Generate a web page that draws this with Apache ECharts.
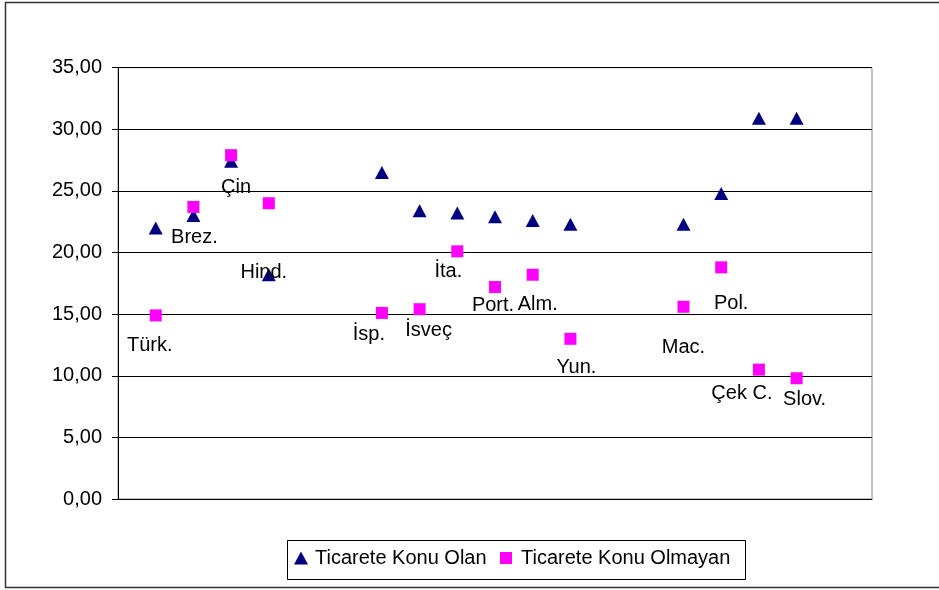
<!DOCTYPE html>
<html>
<head>
<meta charset="utf-8">
<script src="https://cdn.jsdelivr.net/npm/echarts@6/dist/echarts.min.js"></script>
<style>html,body{margin:0;padding:0;background:#fff}#c{width:939px;height:590px}</style>
</head>
<body>
<div id="c"></div>
<script>
// Category slots (blank slots are empty gaps on the axis)
const categories = ['', 'Türk.', 'Brez.', 'Çin', 'Hind.', '', '', 'İsp.', 'İsveç', 'İta.', 'Port.', 'Alm.', 'Yun.', '', '', 'Mac.', 'Pol.', 'Çek C.', 'Slov.', '', ''];
// Ticarete Konu Olan
const tradedValues = [null, 22.0, 23.0, 27.4, 18.2, null, null, 26.5, 23.4, 23.2, 22.9, 22.6, 22.3, null, null, 22.3, 24.8, 30.9, 30.9, null, null];
// Ticarete Konu Olmayan
const nonTradedValues = [null, 14.9, 23.7, 27.9, 24.0, null, null, 15.1, 15.4, 20.1, 17.2, 18.2, 13.0, null, null, 15.6, 18.8, 10.5, 9.8, null, null];
const yTicks = [0, 5, 10, 15, 20, 25, 30, 35];
const seriesNames = ['Ticarete Konu Olan', 'Ticarete Konu Olmayan'];

// label placement (pixel offsets from the non-traded marker), styling only
const labelOffsets = {
  1: [-6, 30], 2: [1, 31], 3: [5, 32], 4: [-5, 69], 7: [-13, 22], 8: [9, 21], 9: [-9, 20],
  10: [-2, 18], 11: [5, 30], 12: [6, 29], 15: [0, 41], 16: [10, 36], 17: [-17, 24], 18: [8, 21]
};

const FONT = "'Liberation Sans', Arial, sans-serif";
const FS = 20;
const chart = echarts.init(document.getElementById('c'), null, {renderer: 'canvas'});

const nonTradedData = nonTradedValues.map((v, i) => {
  if (v === null) return null;
  const off = labelOffsets[i] || [0, 0];
  return { value: v, label: { offset: off } };
});

chart.setOption({
  animation: false,
  backgroundColor: '#fff',
  textStyle: { fontFamily: FONT },
  grid: { left: 118, right: 67, top: 67.7, bottom: 91, show: true, borderColor: '#888', borderWidth: 1, containLabel: false },
  xAxis: {
    type: 'category', data: categories, boundaryGap: false,
    axisLine: { show: true, lineStyle: { color: '#000', width: 1 } },
    axisTick: { show: false }, axisLabel: { show: false }, splitLine: { show: false }
  },
  yAxis: {
    type: 'value', min: yTicks[0], max: yTicks[yTicks.length - 1], interval: 5,
    axisLine: { show: true, lineStyle: { color: '#000', width: 1 } },
    axisTick: { show: true, length: 6, inside: false, lineStyle: { color: '#000' } },
    axisLabel: { margin: 16, color: '#000', fontSize: FS, fontFamily: FONT,
      formatter: v => v.toFixed(2).replace('.', ',') },
    splitLine: { show: true, lineStyle: { color: '#000', width: 1 } }
  },
  legend: [
    { data: [seriesNames[0]], left: 294, top: 548, padding: 0, itemWidth: 14, itemHeight: 13,
      icon: 'triangle', textStyle: { fontSize: FS, color: '#000', fontFamily: FONT, padding: [0, 0, 0, 2], lineHeight: 20 } },
    { data: [seriesNames[1]], left: 500, top: 548, padding: 0, itemWidth: 12, itemHeight: 12,
      icon: 'rect', textStyle: { fontSize: FS, color: '#000', fontFamily: FONT, padding: [0, 0, 0, 4], lineHeight: 20 } }
  ],
  graphic: [
    { type: 'rect', shape: { x: 5.5, y: 2.5, width: 940, height: 585 }, style: { fill: 'none', stroke: '#333', lineWidth: 1.5 }, z: 0, silent: true },
    { type: 'rect', shape: { x: 287.5, y: 540.5, width: 458, height: 39 }, style: { fill: 'none', stroke: '#000', lineWidth: 1 }, z: 0, silent: true }
  ],
  series: [
    { name: seriesNames[0], type: 'scatter', data: tradedValues, symbol: 'triangle', symbolSize: [14, 13],
      itemStyle: { color: '#000080', opacity: 1 }, z: 3 },
    { name: seriesNames[1], type: 'scatter', data: nonTradedData, symbol: 'rect', symbolSize: 12,
      itemStyle: { color: '#FF00FF', opacity: 1 }, z: 4,
      label: { show: true, position: 'inside', color: '#000', fontSize: FS, fontFamily: FONT,
        formatter: p => categories[p.dataIndex] } }
  ]
});
</script>
</body>
</html>
